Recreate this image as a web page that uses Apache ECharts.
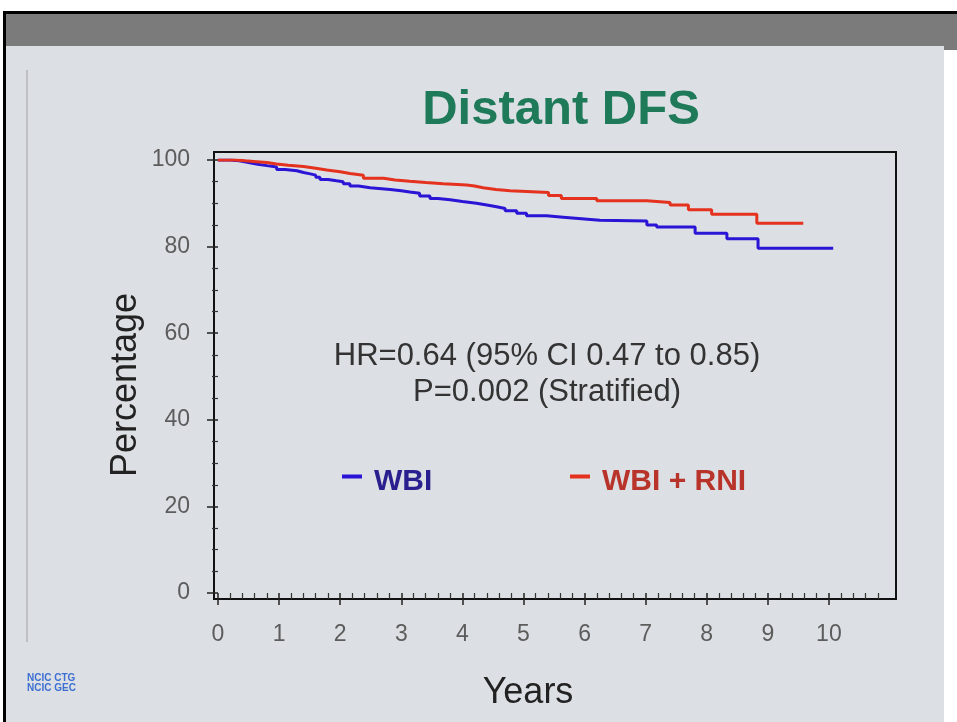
<!DOCTYPE html>
<html>
<head>
<meta charset="utf-8">
<script src="https://cdn.jsdelivr.net/npm/echarts@6/dist/echarts.min.js"></script>
<style>
html,body{margin:0;padding:0;background:#ffffff;}
#chart{width:957px;height:722px;}
</style>
</head>
<body>
<div id="chart"></div>
<script>
// ---- data ----
const titleText = 'Distant DFS';
const xAxisName = 'Years';
const yAxisName = 'Percentage';
const xTickValues = [0, 1, 2, 3, 4, 5, 6, 7, 8, 9, 10];
const yTickValues = [0, 20, 40, 60, 80, 100];
const seriesNames = ['WBI', 'WBI + RNI'];

// WBI (blue) Kaplan-Meier steps: years, percentage
const wbiYears = [0, 0.2, 0.35, 0.5, 0.65, 0.8, 0.96, 1.1, 1.29, 1.4, 1.51, 1.6, 1.67, 1.8, 1.94, 2.05, 2.16, 2.3, 2.49, 2.82, 3.0, 3.14, 3.3, 3.47, 3.6, 3.8, 4.0, 4.23, 4.4, 4.56, 4.7, 4.89, 5.05, 5.38, 5.65, 6.0, 6.25, 7.02, 7.18, 7.81, 8.33, 8.84, 10.07];
const wbiPct   = [100, 99.8, 99.4, 99.0, 98.7, 98.4, 97.8, 97.5, 97.1, 96.8, 96.5, 96.0, 95.5, 95.2, 95.0, 94.5, 94.0, 93.6, 93.2, 92.9, 92.6, 92.3, 91.7, 91.1, 90.8, 90.4, 90.0, 89.6, 89.2, 88.8, 88.3, 87.7, 87.1, 86.8, 86.4, 86.1, 85.9, 85.0, 84.5, 83.1, 81.8, 79.6, 79.6];

// WBI + RNI (red) Kaplan-Meier steps: years, percentage
const rniYears = [0, 0.28, 0.45, 0.63, 0.8, 0.96, 1.15, 1.4, 1.6, 1.78, 2.0, 2.16, 2.38, 2.71, 2.9, 3.14, 3.4, 3.69, 4.07, 4.2, 4.34, 4.55, 4.78, 5.41, 5.62, 6.2, 7.02, 7.4, 7.7, 8.08, 8.82, 9.58];
const rniPct   = [100, 99.8, 99.6, 99.4, 99.1, 98.8, 98.5, 98.1, 97.7, 97.3, 96.9, 96.5, 95.8, 95.4, 95.1, 94.8, 94.5, 94.2, 94.0, 93.6, 93.2, 92.9, 92.5, 91.8, 91.1, 90.6, 90.2, 89.6, 88.5, 87.5, 85.4, 85.4];

const statLines = ['HR=0.64 (95% CI 0.47 to 0.85)', 'P=0.002 (Stratified)'];
const footerLines = ['NCIC CTG', 'NCIC GEC'];

// ---- chart ----
const FONT = '"Liberation Sans", Arial, sans-serif';
const pairs = (xs, ys) => xs.map((x, i) => [x, ys[i]]);
// legend mark: short bar sitting a little above the text centre
const legendIcon = 'path://M0,0L20,0L20,4L0,4Z M0,15L0.01,15L0.01,15.01Z';

const chart = echarts.init(document.getElementById('chart'), null, {renderer: 'canvas'});

const option = {
  backgroundColor: '#ffffff',
  animation: false,
  textStyle: {fontFamily: FONT},
  title: {
    text: titleText,
    left: 556,
    textAlign: 'center',
    top: 81,
    textStyle: {fontSize: 49, fontWeight: 'bold', color: '#1f7a5a', fontFamily: FONT}
  },
  graphic: [
    {type: 'rect', z: -10, silent: true, shape: {x: 3, y: 11, width: 954, height: 3}, style: {fill: '#000000'}},
    {type: 'rect', z: -10, silent: true, shape: {x: 3, y: 11, width: 3, height: 711}, style: {fill: '#000000'}},
    {type: 'rect', z: -10, silent: true, shape: {x: 6, y: 14, width: 951, height: 32}, style: {fill: '#7b7b7b'}},
    {type: 'rect', z: -10, silent: true, shape: {x: 944, y: 14, width: 13, height: 36}, style: {fill: '#7b7b7b'}},
    {type: 'rect', z: -10, silent: true, shape: {x: 6, y: 46, width: 938, height: 676}, style: {fill: '#dcdfe3'}},
    {type: 'line', z: -9, silent: true, shape: {x1: 27, y1: 70, x2: 27, y2: 642}, style: {stroke: '#b4b6ba', lineWidth: 1.5}},
    {type: 'text', silent: true, x: 547, y: 356, style: {text: statLines[0], fontSize: 31, fontFamily: FONT, fill: '#333333', align: 'center', verticalAlign: 'middle'}},
    {type: 'text', silent: true, x: 547, y: 392, style: {text: statLines[1], fontSize: 31, fontFamily: FONT, fill: '#333333', align: 'center', verticalAlign: 'middle'}},
    {type: 'text', silent: true, x: 27, y: 678, style: {text: footerLines[0], fontSize: 10, fontWeight: 'bold', fontFamily: FONT, fill: '#3d6fd2', align: 'left', verticalAlign: 'middle'}},
    {type: 'text', silent: true, x: 27, y: 688, style: {text: footerLines[1], fontSize: 10, fontWeight: 'bold', fontFamily: FONT, fill: '#3d6fd2', align: 'left', verticalAlign: 'middle'}}
  ],
  legend: [
    {
      data: [seriesNames[0]], left: 337, top: 462, selectedMode: false,
      icon: legendIcon, itemWidth: 20, itemHeight: 15,
      textStyle: {fontSize: 30, fontWeight: 'bold', color: '#2a1f8f', fontFamily: FONT, padding: [0, 0, 0, 7]}
    },
    {
      data: [seriesNames[1]], left: 565, top: 462, selectedMode: false,
      icon: legendIcon, itemWidth: 20, itemHeight: 15,
      textStyle: {fontSize: 30, fontWeight: 'bold', color: '#b8342b', fontFamily: FONT, padding: [0, 0, 0, 7]}
    }
  ],
  grid: [
    // frame box
    {show: true, left: 214, top: 152, width: 682, height: 447, borderColor: '#111111', borderWidth: 2, backgroundColor: 'transparent'},
    // data area
    {left: 218, top: 160, width: 672, height: 433}
  ],
  xAxis: [
    {gridIndex: 0, type: 'value', min: 0, max: 1, show: false},
    {
      gridIndex: 1, type: 'value', min: 0, max: 11, interval: 1, offset: 6,
      axisLine: {show: false},
      axisTick: {show: true, customValues: xTickValues, length: 12, inside: false, lineStyle: {color: '#222222', width: 1.5}},
      minorTick: {show: true, splitNumber: 5, length: 6, lineStyle: {color: '#333333', width: 1.2}},
      axisLabel: {customValues: xTickValues, margin: 24, fontSize: 23, color: '#5c5c5c', fontFamily: FONT},
      splitLine: {show: false},
      name: xAxisName, nameLocation: 'middle', nameGap: 76, nameMoveOverlap: false,
      nameTextStyle: {fontSize: 36, color: '#222222', fontFamily: FONT, padding: [0, 52, 0, 0]}
    }
  ],
  yAxis: [
    {gridIndex: 0, type: 'value', min: 0, max: 1, show: false},
    {
      gridIndex: 1, type: 'value', min: 0, max: 100, interval: 20, offset: 4,
      axisLine: {show: false},
      axisTick: {show: true, length: 11, inside: false, lineStyle: {color: '#222222', width: 1.5}},
      minorTick: {show: true, splitNumber: 4, length: 6, lineStyle: {color: '#333333', width: 1.2}},
      axisLabel: {margin: 24, fontSize: 23, color: '#5c5c5c', fontFamily: FONT},
      splitLine: {show: false},
      name: yAxisName, nameLocation: 'middle', nameGap: 70, nameRotate: 90, nameMoveOverlap: false,
      nameTextStyle: {fontSize: 36, color: '#222222', fontFamily: FONT, padding: [0, 17, 0, 0]}
    }
  ],
  series: [
    {
      name: seriesNames[0], type: 'line', xAxisIndex: 1, yAxisIndex: 1,
      step: 'end', showSymbol: false, symbol: 'none',
      data: pairs(wbiYears, wbiPct),
      color: '#2a14d6',
      lineStyle: {width: 3, color: '#2a14d6'},
      z: 3
    },
    {
      name: seriesNames[1], type: 'line', xAxisIndex: 1, yAxisIndex: 1,
      step: 'end', showSymbol: false, symbol: 'none',
      data: pairs(rniYears, rniPct),
      color: '#e4321f',
      lineStyle: {width: 3, color: '#e4321f'},
      z: 4
    }
  ]
};
chart.setOption(option);
</script>
</body>
</html>
